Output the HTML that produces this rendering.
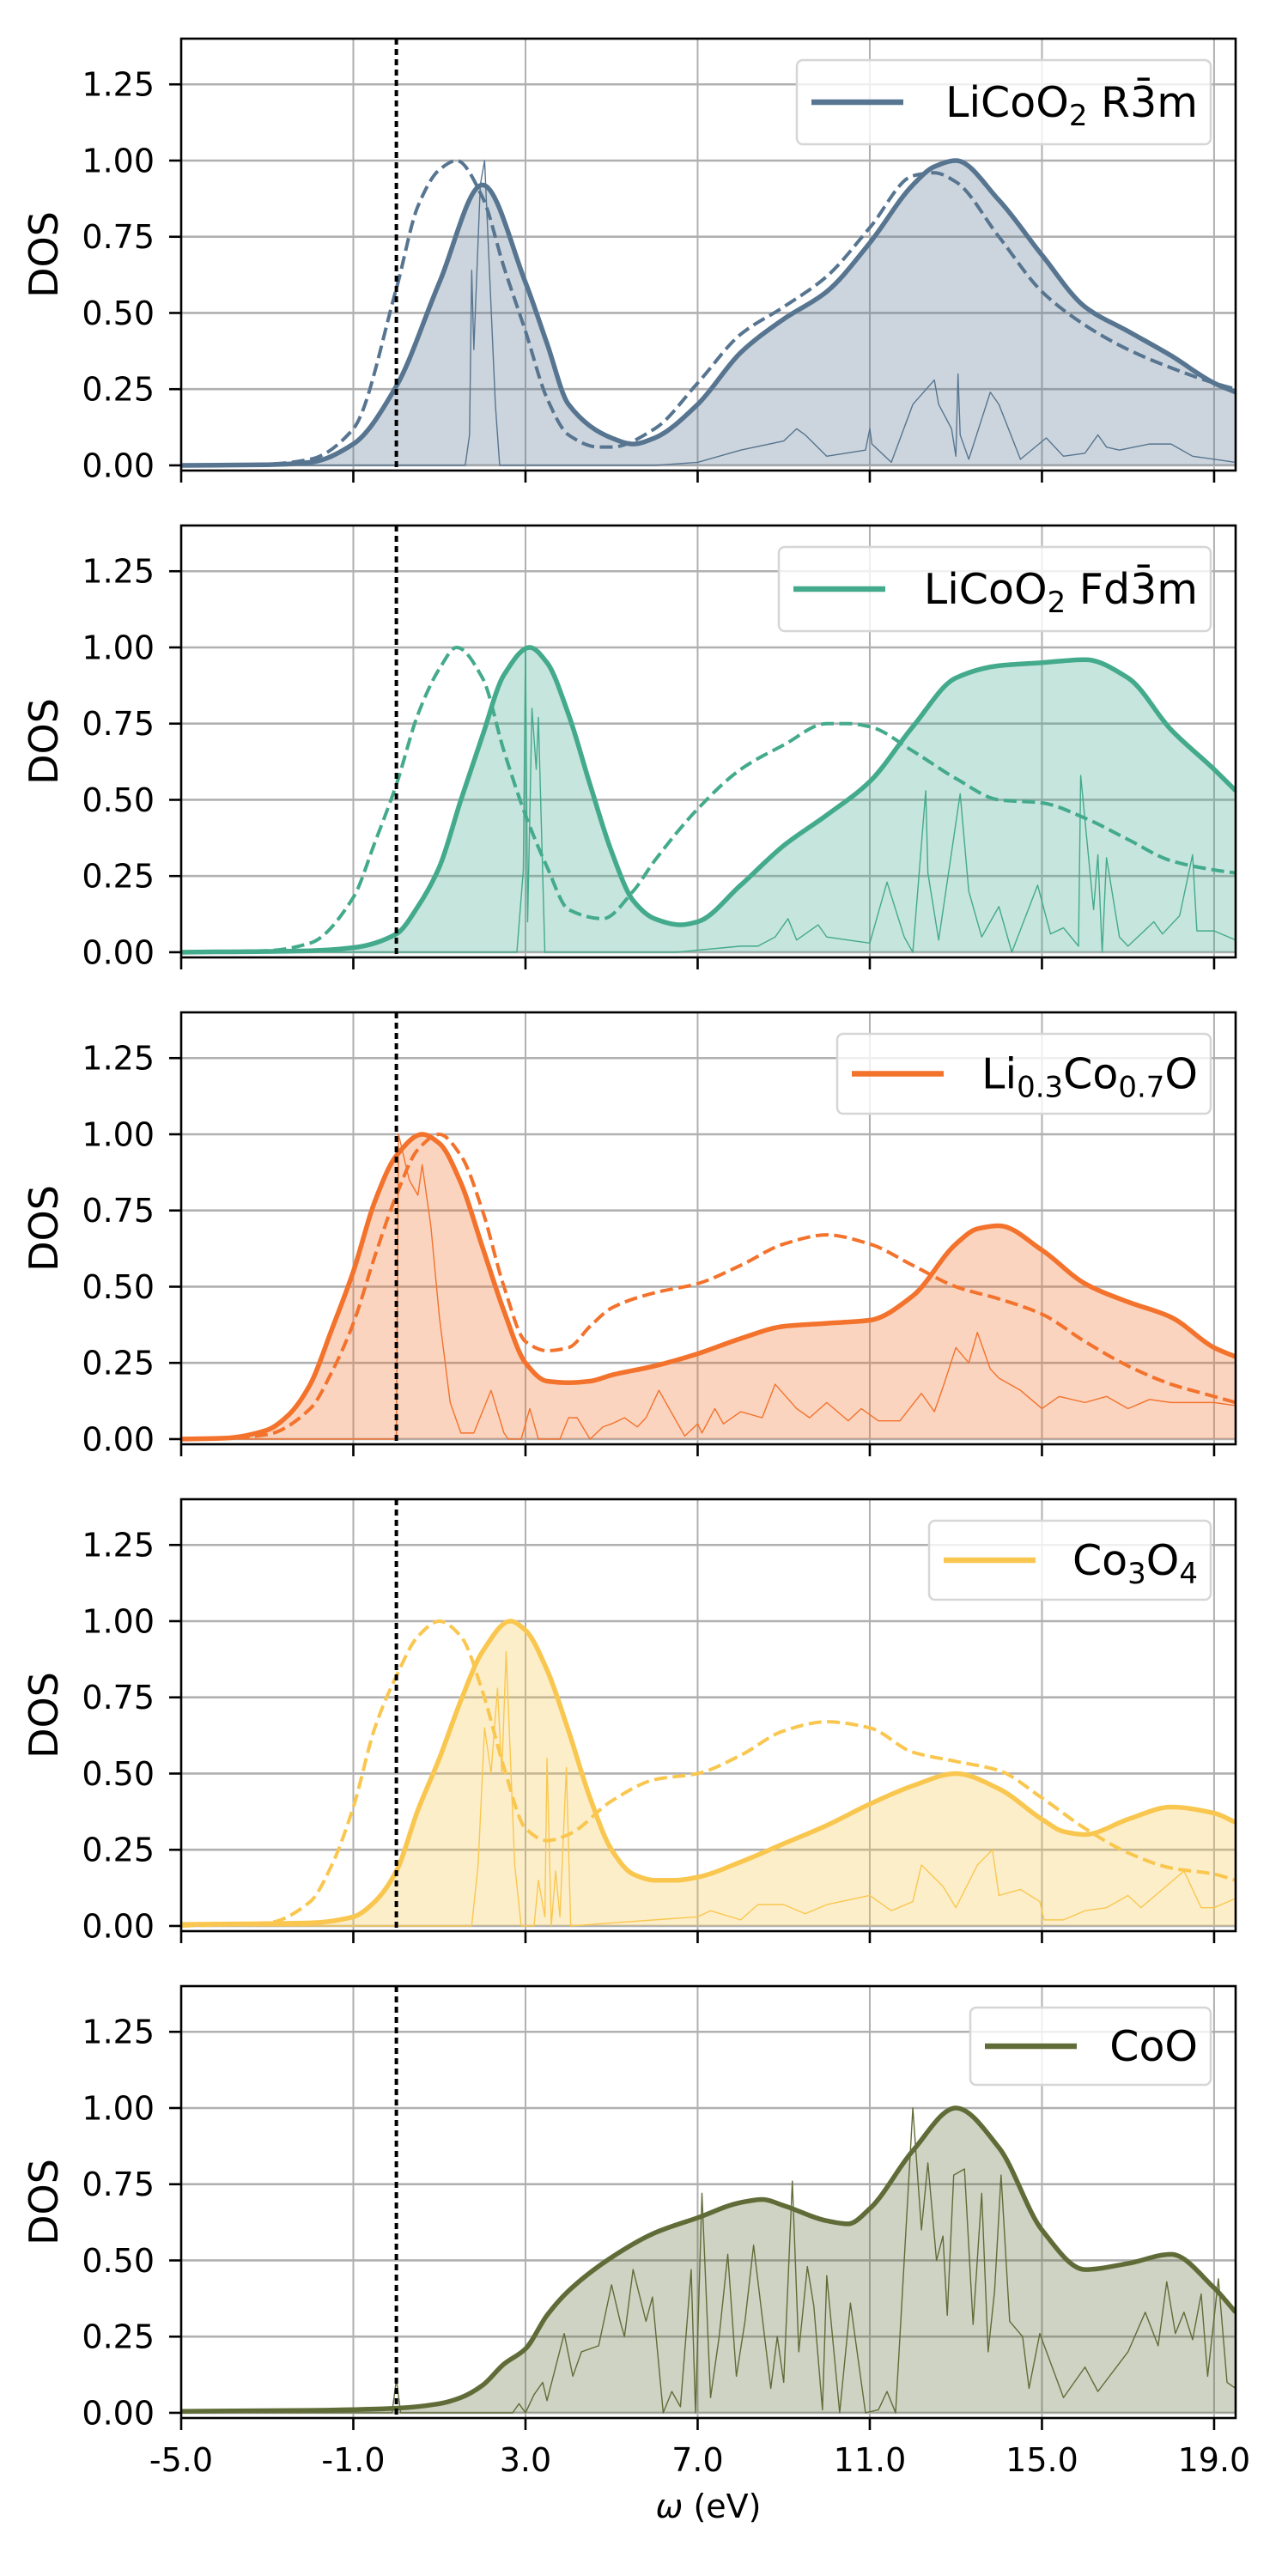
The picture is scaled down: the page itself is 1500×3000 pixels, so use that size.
<!DOCTYPE html>
<html><head><meta charset="utf-8"><title>DOS comparison</title>
<style>
html,body{margin:0;padding:0;background:#fff;}
svg{display:block;font-family:"DejaVu Sans","Liberation Sans",sans-serif;}
</style></head>
<body>
<svg id="chart" width="1500" height="3000" viewBox="0 0 1500 3000" xmlns="http://www.w3.org/2000/svg">
<rect x="0" y="0" width="1500" height="3000" fill="#fff"/>
</svg>
<script>
// ---------- data ----------
const xTicks = [-5, -1, 3, 7, 11, 15, 19];
const xTickLabels = ["-5.0", "-1.0", "3.0", "7.0", "11.0", "15.0", "19.0"];
const yTicks = [0, 0.25, 0.5, 0.75, 1.0, 1.25];
const yTickLabels = ["0.00", "0.25", "0.50", "0.75", "1.00", "1.25"];
const fermiLevel = 0;

// Panel 1: LiCoO2 R-3m
const p1SolidE = [-5,-3,-2,-1,0,1,2,3,3.5,4,5,5.5,6,7,8,9,10,11,12,12.5,13,14,15,16,17,18,19,19.5];
const p1SolidV = [0,0.002,0.01,0.07,0.26,0.6,0.92,0.6,0.4,0.2,0.09,0.07,0.09,0.2,0.37,0.48,0.57,0.73,0.92,0.98,1.0,0.87,0.69,0.52,0.44,0.36,0.27,0.24];
const p1DashE = [-5,-3,-2,-1,0,0.5,1,1.4,2,2.5,3,3.5,4,4.7,5,6,7,8,9,10,11,12,12.5,13,14,15,16,17,18,19,19.5];
const p1DashV = [0,0.004,0.02,0.12,0.58,0.85,0.97,1.0,0.88,0.65,0.44,0.22,0.1,0.06,0.06,0.12,0.27,0.43,0.52,0.62,0.78,0.95,0.96,0.93,0.75,0.57,0.46,0.38,0.32,0.27,0.25];
const p1SpikeE = [-5,1.6,1.7,1.75,1.8,1.95,2.05,2.3,2.4,6,7,8,9,9.3,9.5,10,10.9,11,11.05,11.5,12,12.5,12.6,12.9,13,13.05,13.1,13.3,13.8,14,14.5,15.1,15.5,16,16.3,16.5,16.8,17.5,18,18.5,19.5];
const p1SpikeV = [0,0,0.1,0.64,0.38,0.92,1.0,0.2,0,0,0.01,0.05,0.08,0.12,0.1,0.03,0.05,0.12,0.07,0.01,0.2,0.28,0.2,0.12,0.03,0.3,0.1,0.02,0.24,0.2,0.02,0.09,0.03,0.04,0.1,0.06,0.05,0.07,0.07,0.03,0.01];

// Panel 2: LiCoO2 Fd-3m
const p2SolidE = [-5,-2,-1,0,0.5,1,1.5,2,2.5,3.1,3.5,4,4.5,5,5.5,6,6.6,7,8,9,10,11,12,13,14,15,16,17,18,19,19.5];
const p2SolidV = [0,0.005,0.015,0.06,0.15,0.28,0.5,0.71,0.91,1.0,0.95,0.78,0.55,0.33,0.17,0.11,0.09,0.1,0.22,0.35,0.45,0.56,0.74,0.9,0.94,0.95,0.96,0.9,0.73,0.6,0.53];
const p2DashE = [-5,-3,-2,-1,-0.5,0,0.5,1,1.4,2,2.5,3,3.5,4,4.8,5.5,6,7,8,9,10,10.5,11,12,13,14,15,16,17,18,19,19.5];
const p2DashV = [0,0.005,0.03,0.18,0.36,0.55,0.78,0.93,1.0,0.9,0.66,0.45,0.28,0.14,0.11,0.2,0.3,0.47,0.6,0.68,0.75,0.75,0.74,0.66,0.57,0.5,0.49,0.44,0.37,0.3,0.27,0.26];
const p2SpikeE = [-5,2.8,2.95,3.0,3.05,3.15,3.25,3.3,3.45,6.5,8,8.4,8.8,9.1,9.3,9.8,10,10.5,11,11.4,11.8,12.0,12.3,12.35,12.6,13.1,13.3,13.6,14,14.3,14.9,15.2,15.5,15.85,15.9,16.2,16.3,16.4,16.5,16.8,17,17.6,17.8,18.2,18.5,18.6,19,19.5];
const p2SpikeV = [0,0,0.27,1.0,0.1,0.8,0.6,0.77,0,0,0.02,0.02,0.05,0.11,0.04,0.09,0.05,0.04,0.03,0.23,0.05,0.0,0.53,0.26,0.04,0.52,0.2,0.05,0.15,0.0,0.22,0.06,0.08,0.02,0.58,0.14,0.32,0.0,0.31,0.05,0.02,0.1,0.06,0.12,0.32,0.07,0.07,0.04];

// Panel 3: Li0.3Co0.7O
const p3SolidE = [-5,-4,-3,-2.5,-2,-1.5,-1,-0.5,0,0.6,1,1.5,2,2.5,3,3.5,4,4.5,5,6,7,8,9,10,11,12,13,13.5,14,15,16,17,18,19,19.5];
const p3SolidV = [0,0.003,0.03,0.08,0.18,0.36,0.55,0.78,0.93,1.0,0.97,0.84,0.63,0.42,0.25,0.19,0.185,0.19,0.21,0.24,0.28,0.33,0.37,0.38,0.39,0.47,0.64,0.69,0.7,0.62,0.51,0.45,0.4,0.3,0.27];
const p3DashE = [-5,-4,-3,-2,-1.5,-1,-0.5,0,0.5,1,1.5,2,2.5,3,3.5,4,4.5,5,6,7,8,9,10,11,12,13,14,15,16,17,18,19,19.5];
const p3DashV = [0,0.003,0.015,0.1,0.22,0.38,0.6,0.8,0.95,1.0,0.93,0.75,0.5,0.32,0.29,0.3,0.37,0.43,0.48,0.51,0.57,0.64,0.67,0.64,0.57,0.5,0.46,0.41,0.32,0.24,0.18,0.14,0.12];
const p3SpikeE = [-5,0,0.05,0.3,0.5,0.6,0.8,1.0,1.25,1.5,1.8,2.2,2.5,2.6,2.9,3.1,3.3,3.8,4,4.2,4.5,4.8,5,5.3,5.6,5.8,6.1,6.5,6.7,7,7.1,7.4,7.6,8,8.5,8.8,9.3,9.6,10,10.5,10.8,11.2,11.7,12.2,12.5,12.7,13,13.3,13.5,13.8,14,14.5,15,15.4,16,16.5,17,17.5,18,19,19.5];
const p3SpikeV = [0,0,1.0,0.85,0.8,0.9,0.7,0.4,0.12,0.02,0.02,0.16,0.02,0,0,0.1,0,0,0.07,0.07,0,0.04,0.05,0.07,0.04,0.07,0.16,0.06,0.01,0.05,0.02,0.1,0.05,0.09,0.07,0.18,0.1,0.07,0.12,0.06,0.1,0.06,0.06,0.15,0.09,0.17,0.3,0.25,0.35,0.23,0.2,0.16,0.1,0.14,0.12,0.14,0.1,0.13,0.12,0.12,0.11];

// Panel 4: Co3O4
const p4SolidE = [-5,-2,-1,-0.5,0,0.5,1,1.5,2,2.65,3,3.5,4,4.5,5,5.5,6,6.5,7,8,9,10,11,12,13,14,15,15.5,16,17,18,19,19.5];
const p4SolidV = [0.005,0.01,0.03,0.08,0.18,0.38,0.55,0.74,0.9,1.0,0.97,0.84,0.64,0.42,0.25,0.17,0.15,0.15,0.16,0.21,0.27,0.33,0.4,0.46,0.5,0.45,0.35,0.31,0.3,0.35,0.39,0.37,0.34];
const p4DashE = [-5,-3,-2,-1.5,-1,-0.5,0,0.5,1,1.5,2,2.5,3,3.5,4,5,6,7,8,9,10,11,12,13,14,15,16,17,18,19,19.5];
const p4DashV = [0,0.01,0.08,0.2,0.39,0.65,0.82,0.95,1.0,0.95,0.77,0.52,0.32,0.28,0.3,0.41,0.48,0.5,0.56,0.64,0.67,0.65,0.57,0.54,0.51,0.42,0.32,0.24,0.19,0.17,0.15];
const p4SpikeE = [-5,1.75,1.9,2.05,2.2,2.35,2.45,2.55,2.75,2.9,3.2,3.3,3.45,3.5,3.6,3.7,3.8,3.95,4.05,5,6,7,7.3,8,8.4,9,9.5,10,11,11.5,12,12.2,12.7,13,13.5,13.85,14,14.5,14.95,15.05,15.5,16,16.5,17,17.3,17.8,18.3,18.7,19,19.5];
const p4SpikeV = [0,0,0.2,0.65,0.5,0.78,0.5,0.9,0.2,0,0,0.15,0.03,0.55,0,0.18,0.03,0.52,0,0.01,0.02,0.03,0.05,0.02,0.07,0.07,0.04,0.07,0.1,0.05,0.08,0.2,0.13,0.06,0.2,0.25,0.1,0.12,0.08,0.02,0.02,0.05,0.06,0.1,0.06,0.12,0.18,0.06,0.06,0.09];

// Panel 5: CoO
const p5SolidE = [-5,-2,0,1,1.5,2,2.5,3,3.5,4,5,6,7,8,8.5,9,10,10.5,11,12,13,14,15,16,17,18,19,19.5];
const p5SolidV = [0.005,0.008,0.015,0.03,0.05,0.09,0.16,0.21,0.32,0.4,0.51,0.59,0.64,0.69,0.7,0.68,0.63,0.62,0.67,0.86,1.0,0.87,0.6,0.47,0.49,0.52,0.41,0.33];
const p5SpikeE = [-5,-0.1,0,0.1,2.7,2.85,3,3.2,3.4,3.5,3.9,4.1,4.3,4.7,5.0,5.2,5.3,5.5,5.8,5.95,6.2,6.4,6.6,6.85,6.95,7.1,7.3,7.5,7.7,7.9,8.1,8.3,8.7,8.85,9.0,9.2,9.35,9.55,9.7,9.9,10.0,10.3,10.55,10.9,11.2,11.4,11.6,12.0,12.2,12.35,12.55,12.7,12.8,12.95,13.2,13.4,13.6,13.75,13.9,14.05,14.25,14.55,14.7,14.95,15.5,16.0,16.3,17.0,17.4,17.7,17.9,18.1,18.3,18.5,18.7,18.85,19.1,19.3,19.5];
const p5SpikeV = [0,0,0.11,0,0,0.03,0,0.06,0.1,0.04,0.26,0.12,0.2,0.22,0.42,0.3,0.25,0.47,0.3,0.38,0,0.07,0.02,0.47,0,0.72,0.05,0.25,0.52,0.12,0.3,0.55,0.08,0.25,0.1,0.76,0.2,0.48,0.35,0.01,0.45,0,0.36,0,0.01,0.07,0,1.0,0.6,0.82,0.5,0.58,0.32,0.78,0.8,0.29,0.72,0.2,0.4,0.78,0.3,0.25,0.08,0.26,0.05,0.15,0.07,0.2,0.33,0.22,0.43,0.26,0.33,0.24,0.39,0.12,0.44,0.1,0.08];

const panelNames = ["licoo2-r3m", "licoo2-fd3m", "li03co07o", "co3o4", "coo"];
const panelColors = ["#577590", "#43aa8b", "#f3722c", "#f9c74f", "#606c38"];
const solidE = [p1SolidE, p2SolidE, p3SolidE, p4SolidE, p5SolidE];
const solidV = [p1SolidV, p2SolidV, p3SolidV, p4SolidV, p5SolidV];
const dashE = [p1DashE, p2DashE, p3DashE, p4DashE, null];
const dashV = [p1DashV, p2DashV, p3DashV, p4DashV, null];
const spikeE = [p1SpikeE, p2SpikeE, p3SpikeE, p4SpikeE, p5SpikeE];
const spikeV = [p1SpikeV, p2SpikeV, p3SpikeV, p4SpikeV, p5SpikeV];

// ---------- layout ----------
const NS = "http://www.w3.org/2000/svg";
const svg = document.getElementById("chart");
const AX_L = 211, AX_R = 1439, PANEL_H = 503, PANEL_GAP = 567, FIRST_TOP = 45;
const X_MIN = -5, X_MAX = 19.5, Y_MIN = -0.017, Y_MAX = 1.4;
const legendLeft = [928, 907, 975, 1082, 1130];
const legendH = [98, 98, 93, 92, 90];

function mk(tag, attrs, parent) {
  const el = document.createElementNS(NS, tag);
  for (const k in attrs) el.setAttribute(k, attrs[k]);
  (parent || svg).appendChild(el);
  return el;
}
function xScale(e) { return AX_L + (e - X_MIN) / (X_MAX - X_MIN) * (AX_R - AX_L); }
function yScaleFor(top) { return v => top + PANEL_H - (v - Y_MIN) / (Y_MAX - Y_MIN) * PANEL_H; }

// monotone cubic (Fritsch-Carlson) in pixel space
function smoothPath(pts) {
  const n = pts.length;
  const dx = [], m = [], t = new Array(n);
  for (let i = 0; i < n - 1; i++) {
    dx.push(pts[i + 1][0] - pts[i][0]);
    m.push((pts[i + 1][1] - pts[i][1]) / dx[i]);
  }
  t[0] = m[0]; t[n - 1] = m[n - 2];
  for (let i = 1; i < n - 1; i++) {
    if (m[i - 1] * m[i] <= 0) t[i] = 0;
    else {
      const w1 = 2 * dx[i] + dx[i - 1], w2 = dx[i] + 2 * dx[i - 1];
      t[i] = (w1 + w2) / (w1 / m[i - 1] + w2 / m[i]);
    }
  }
  let d = "M" + pts[0][0].toFixed(2) + "," + pts[0][1].toFixed(2);
  for (let i = 0; i < n - 1; i++) {
    const h = dx[i] / 3;
    d += " C" + (pts[i][0] + h).toFixed(2) + "," + (pts[i][1] + t[i] * h).toFixed(2) + " " +
         (pts[i + 1][0] - h).toFixed(2) + "," + (pts[i + 1][1] - t[i + 1] * h).toFixed(2) + " " +
         pts[i + 1][0].toFixed(2) + "," + pts[i + 1][1].toFixed(2);
  }
  return d;
}
function linePath(pts) {
  return pts.map((p, i) => (i ? "L" : "M") + p[0].toFixed(2) + "," + p[1].toFixed(2)).join(" ");
}

for (let i = 0; i < 5; i++) {
  const top = FIRST_TOP + i * PANEL_GAP;
  const bottom = top + PANEL_H;
  const yS = yScaleFor(top);
  const col = panelColors[i];
  const g = mk("g", {});
  
  

  const clipId = "clip" + i;
  const cp = mk("clipPath", { id: clipId }, g);
  mk("rect", { x: AX_L, y: top, width: AX_R - AX_L, height: PANEL_H }, cp);

  const grid = mk("g", { stroke: "#b0b0b0", "stroke-width": "2" }, g);
  
  
  xTicks.forEach(t => {
    const l = mk("line", { x1: xScale(t), x2: xScale(t), y1: top, y2: bottom }, grid);
    
    
  });
  yTicks.forEach(t => {
    const l = mk("line", { x1: AX_L, x2: AX_R, y1: yS(t), y2: yS(t), "stroke-width": "2.6" }, grid);
    
    
  });

  const plot = mk("g", { "clip-path": "url(#" + clipId + ")" }, g);
  
  

  const sp = solidE[i].map((e, k) => [xScale(e), yS(solidV[i][k])]);
  const sPath = smoothPath(sp);
  const fill = mk("path", { d: sPath + " L" + xScale(X_MAX + 1) + "," + yS(solidV[i][solidV[i].length - 1]) + " L" + xScale(X_MAX + 1) + "," + yS(0) + " L" + sp[0][0] + "," + yS(0) + " Z", fill: col, "fill-opacity": "0.3", stroke: "none" }, plot);
  
  

  const spk = spikeE[i].map((e, k) => [xScale(e), yS(spikeV[i][k])]);
  const spl = mk("path", { d: linePath(spk), fill: "none", stroke: col, "stroke-width": "1.4", "stroke-linejoin": "round" }, plot);
  
  

  if (dashE[i]) {
    const dp = dashE[i].map((e, k) => [xScale(e), yS(dashV[i][k])]);
    const dl = mk("path", { d: smoothPath(dp), fill: "none", stroke: col, "stroke-width": "4", "stroke-dasharray": "15,6.5" }, plot);
    
    
  }

  const sl = mk("path", { d: sPath, fill: "none", stroke: col, "stroke-width": "5.5", "stroke-linejoin": "round" }, plot);
  
  

  const fl = mk("line", { x1: xScale(fermiLevel), x2: xScale(fermiLevel), y1: top, y2: bottom, stroke: "#000", "stroke-width": "4", "stroke-dasharray": "7,5" }, plot);
  
  

  const frame = mk("rect", { x: AX_L, y: top, width: AX_R - AX_L, height: PANEL_H, fill: "none", stroke: "#000", "stroke-width": "2.6" }, g);
  
  

  yTicks.forEach((t, k) => {
    const tk = mk("line", { x1: AX_L - 14, x2: AX_L, y1: yS(t), y2: yS(t), stroke: "#000", "stroke-width": "2.6" }, g);
    
    
    const tl = mk("text", { x: 180, y: yS(t) + 13.5, "text-anchor": "end", "font-size": "38", fill: "#000" }, g);
    tl.textContent = yTickLabels[k];
    
    
  });
  xTicks.forEach((t, k) => {
    const tk = mk("line", { x1: xScale(t), x2: xScale(t), y1: bottom, y2: bottom + 14, stroke: "#000", "stroke-width": "2.6" }, g);
    
    
    if (i === 4) {
      const tl = mk("text", { x: xScale(t), y: bottom + 62, "text-anchor": "middle", "font-size": "38", fill: "#000" }, g);
      tl.textContent = xTickLabels[k];
      
      
    }
  });

  const cy = top + PANEL_H / 2;
  const yl = mk("text", { x: 0, y: 0, transform: "translate(67," + cy + ") rotate(-90)", "text-anchor": "middle", "font-size": "46", fill: "#000" }, g);
  yl.textContent = "DOS";
  
  

  const lx = legendLeft[i], ly = top + 25, lh = legendH[i], lw = 1410 - lx;
  const lg = mk("g", {}, g);
  
  
  const lb = mk("rect", { x: lx, y: ly, width: lw, height: lh, rx: 7, fill: "#fff", "fill-opacity": "0.8", stroke: "#d6d6d6", "stroke-width": "2.5" }, lg);
  
  
  const my = ly + lh / 2;
  const ll = mk("line", { x1: lx + 17, x2: lx + 124, y1: my, y2: my, stroke: col, "stroke-width": "6.5" }, lg);
  
  
  const lt = mk("text", { x: 1395, y: my + 17, "text-anchor": "end", "font-size": "49", fill: "#000" }, lg);
  
  
  const sub = (s) => '<tspan font-size="34" dy="10">' + s + '</tspan><tspan dy="-10">';
  const labels = [
    'LiCoO' + sub('2') + ' R3\u0304m</tspan>',
    'LiCoO' + sub('2') + ' Fd3\u0304m</tspan>',
    'Li' + sub('0.3') + 'Co</tspan>' + sub('0.7') + 'O</tspan>',
    'Co' + sub('3') + 'O</tspan><tspan font-size="34" dy="10">4</tspan>',
    'CoO'
  ];
  lt.innerHTML = labels[i];
}

const xl = mk("text", { x: (AX_L + AX_R) / 2, y: 2932, "text-anchor": "middle", "font-size": "38", fill: "#000" });
xl.innerHTML = '<tspan font-style="italic">\u03c9</tspan> (eV)';


</script>
</body></html>
